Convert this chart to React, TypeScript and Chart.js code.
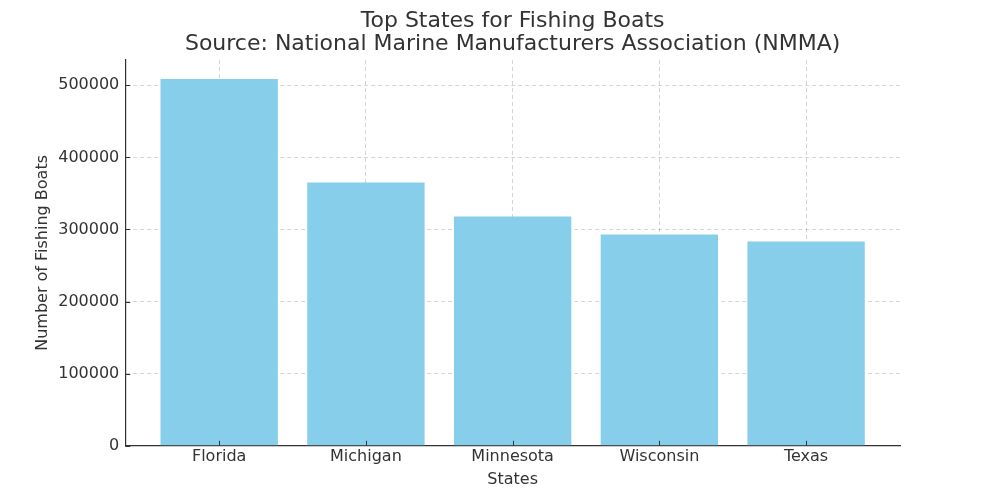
import React, { useEffect, useRef } from "react";
import { Chart, registerables } from "chart.js";

Chart.register(...registerables);

const states: string[] = ["Florida", "Michigan", "Minnesota", "Wisconsin", "Texas"];
const boats: number[] = [508500, 365000, 318000, 293000, 283300];
const yTickValues: number[] = [0, 100000, 200000, 300000, 400000, 500000];
const titleLines: string[] = [
  "Top States for Fishing Boats",
  "Source: National Marine Manufacturers Association (NMMA)",
];

const FONT = "'DejaVu Sans', sans-serif";

const inwardTicks = {
  id: "inwardTicks",
  afterDraw(chart: any) {
    const ctx = chart.ctx;
    const xs = chart.scales.x;
    const ys = chart.scales.y;
    const area = chart.chartArea;
    ctx.save();
    ctx.strokeStyle = "#333";
    ctx.lineWidth = 1;
    ctx.beginPath();
    xs.ticks.forEach((t: any) => {
      const px = Math.round(xs.getPixelForValue(t.value)) + 0.5;
      ctx.moveTo(px, area.bottom);
      ctx.lineTo(px, area.bottom - 5);
    });
    ys.ticks.forEach((t: any) => {
      const py = Math.round(ys.getPixelForValue(t.value)) + 0.5;
      ctx.moveTo(area.left, py);
      ctx.lineTo(area.left + 5, py);
    });
    ctx.stroke();
    ctx.restore();
  },
};

// Title centred over the plot area (as in the reference), drawn in the space reserved by the hidden built-in title
const axesTitle = {
  id: "axesTitle",
  afterDraw(chart: any) {
    const ctx = chart.ctx;
    const area = chart.chartArea;
    const cx = (area.left + area.right) / 2;
    ctx.save();
    ctx.fillStyle = "#333";
    ctx.font = `22px ${FONT}`;
    ctx.textAlign = "center";
    ctx.textBaseline = "alphabetic";
    titleLines.forEach((line, i) => {
      ctx.fillText(line, cx, 27 + i * 22.7);
    });
    ctx.restore();
  },
};

export default function App() {
  const ref = useRef<HTMLCanvasElement | null>(null);

  useEffect(() => {
    if (!ref.current) return;
    const gridColor = "rgba(0,0,0,0.17)";
    const chart = new Chart(ref.current, {
      type: "bar",
      data: {
        datasets: [
          {
            data: states.map((_, i) => ({ x: i, y: boats[i] })),
            backgroundColor: "#87CEEB",
            borderWidth: 0,
            barPercentage: 0.8,
            categoryPercentage: 1,
          },
        ],
      },
      plugins: [inwardTicks, axesTitle],
      options: {
        animation: false,
        responsive: true,
        maintainAspectRatio: false,
        layout: { padding: { left: 33, right: 100, top: 4, bottom: 11 } },
        plugins: {
          legend: { display: false },
          tooltip: { enabled: false },
          title: {
            display: true,
            text: titleLines,
            color: "rgba(0,0,0,0)",
            font: { family: FONT, size: 20, weight: "normal", lineHeight: 1.15 },
            padding: { top: 4, bottom: 6 },
          },
        },
        scales: {
          x: {
            type: "linear",
            min: -0.64,
            max: 4.64,
            z: 1,
            offset: false,
            afterBuildTicks: (scale: any) => {
              scale.ticks = states.map((_, i) => ({ value: i }));
            },
            ticks: {
              autoSkip: false,
              maxRotation: 0,
              color: "#333",
              font: { family: FONT, size: 16, lineHeight: 1.0 },
              padding: 3,
              callback: (v: any) => {
                const n = Number(v);
                return states[n] !== undefined ? states[n] : "";
              },
            },
            grid: {
              offset: false,
              color: gridColor,
              lineWidth: 1,
              drawTicks: false,
            },
            border: { display: true, color: "#333", width: 1.2, dash: [4, 3] as any },
            title: {
              display: true,
              text: "States",
              color: "#333",
              font: { family: FONT, size: 16 },
              padding: { top: 2, bottom: 0 },
            },
          },
          y: {
            type: "linear",
            min: 0,
            max: 535000,
            z: 1,
            afterBuildTicks: (scale: any) => {
              scale.ticks = yTickValues.map((v) => ({ value: v }));
            },
            ticks: {
              color: "#333",
              font: { family: FONT, size: 16 },
              padding: 6,
              callback: (v: any) => String(v),
            },
            grid: {
              color: gridColor,
              lineWidth: 1,
              drawTicks: false,
            },
            border: { display: true, color: "#333", width: 1.2, dash: [4, 3] as any },
            title: {
              display: true,
              text: "Number of Fishing Boats",
              color: "#333",
              font: { family: FONT, size: 16 },
              padding: { top: 0, bottom: 0 },
            },
          },
        },
      },
    });
    return () => chart.destroy();
  }, []);

  return (
    <div style={{ position: "fixed", left: 0, top: 0, width: 1000, height: 500, background: "#fff" }}>
      <canvas ref={ref} />
    </div>
  );
}
